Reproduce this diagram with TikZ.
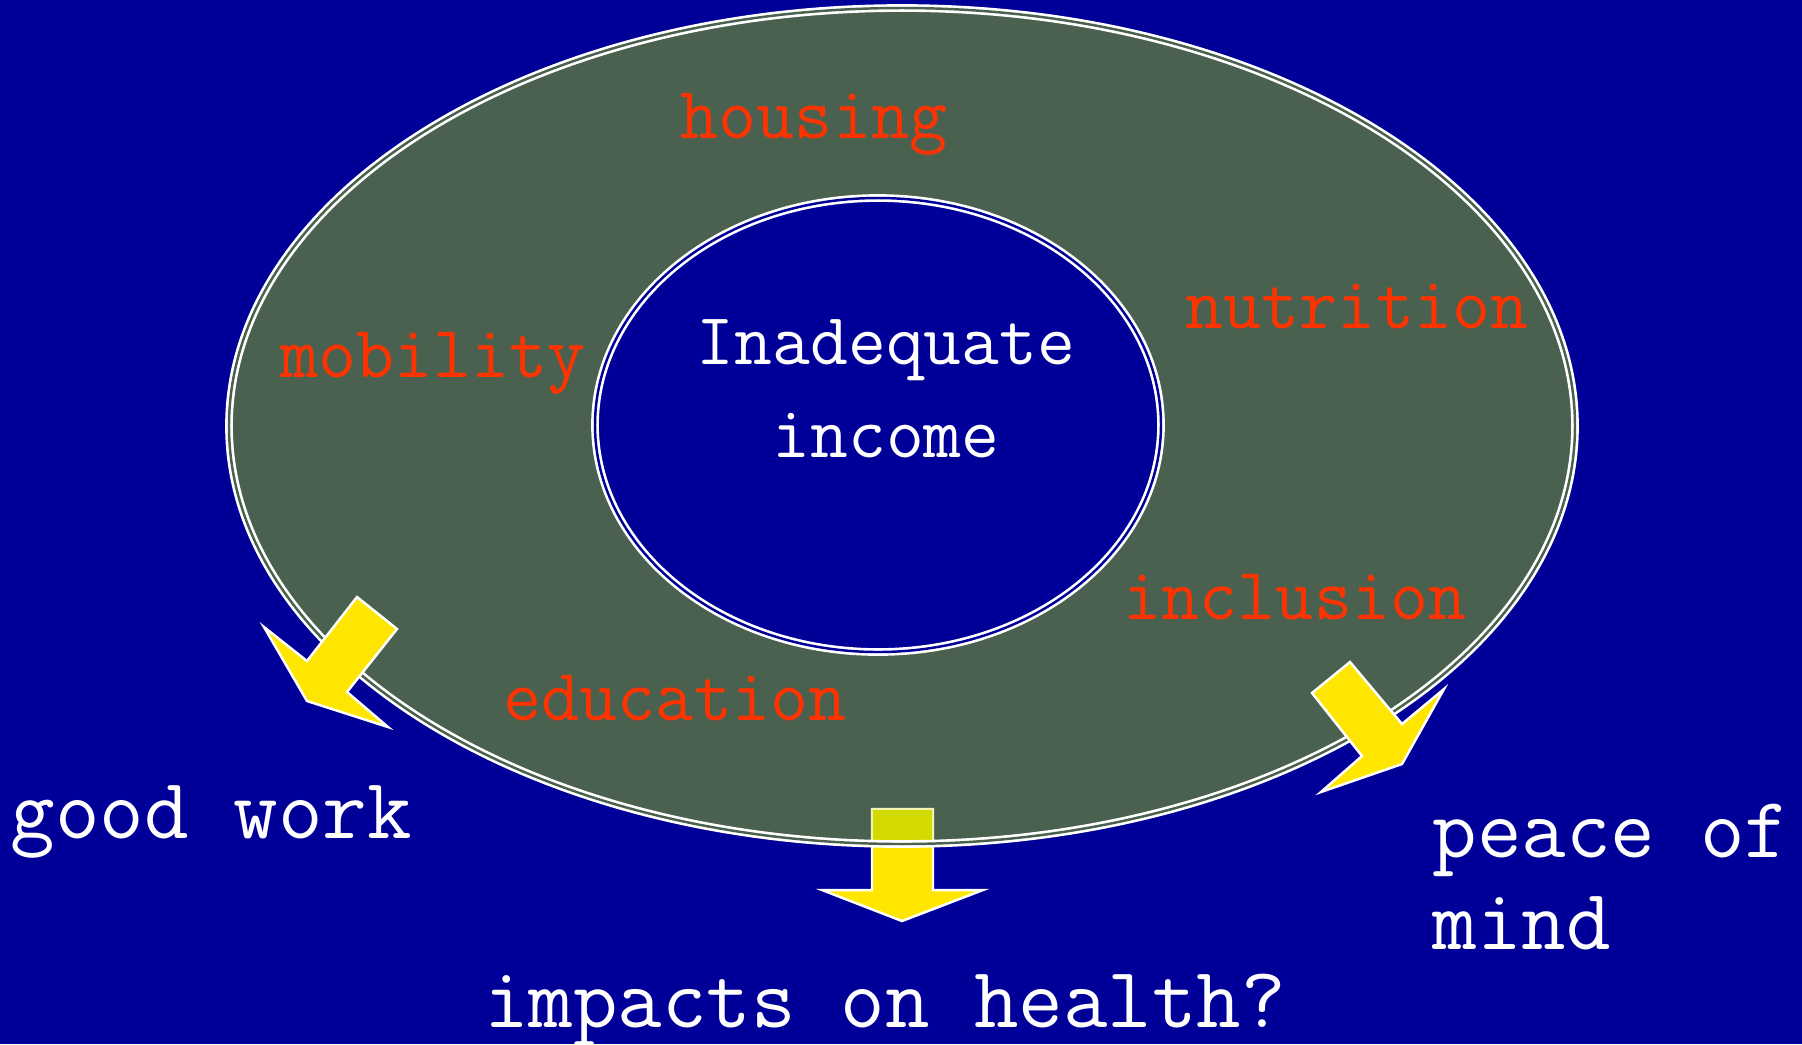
\documentclass[tikz,border=0pt]{standalone}
\usepackage{fontspec}
\usepackage{tikz}
\usetikzlibrary{positioning}

\definecolor{bgblue}{HTML}{000099}
\definecolor{ringgreen}{HTML}{4A6150}
\definecolor{labelred}{HTML}{FF3300}
\definecolor{arrowyellow}{HTML}{FFE600}
\definecolor{shaftolive}{HTML}{D2DA00}

\begin{document}
\begin{tikzpicture}[
    x=0.01cm, y=-0.01cm,
    ring/.style={draw=white, line width=0.75pt, double distance=0.7pt},
    factor/.style={font=\ttfamily\fontsize{21}{24}\selectfont, text=labelred, inner sep=0pt},
    core/.style={font=\ttfamily\fontsize{20.9}{26.4}\selectfont, text=white, align=center, inner sep=0pt},
    outcome/.style={font=\ttfamily\fontsize{24.6}{26.3}\selectfont, text=white, align=left, inner sep=0pt},
    fatarrow/.style={fill=arrowyellow, draw=white, line width=0.7pt, line join=miter}
]

% Background
\fill[bgblue] (0,0) rectangle (1802,1044);
\useasboundingbox (0,0) rectangle (1802,1044);

% Outer ring
\fill[ringgreen] (902,426) ellipse [x radius=673, y radius=418];

% Arrow down (shaft under the ring edge)
\draw[fatarrow] (872,809) -- (933,809) -- (933,890) -- (983,890) -- (902,921)
    -- (822,890) -- (872,890) -- cycle;
\begin{scope}
  \clip (902,426) ellipse [x radius=673, y radius=418];
  \fill[shaftolive] (872,809) rectangle (933,890);
  \draw[white!70!shaftolive, line width=0.7pt] (872,890) -- (872,809) -- (933,809) -- (933,890);
\end{scope}
\draw[ring, double=ringgreen] (902,426) ellipse [x radius=673, y radius=418];

% Inner ring
\draw[ring, double=bgblue, fill=bgblue] (878,425) ellipse [x radius=283, y radius=227];

% Side arrows
\draw[fatarrow] (357,597) -- (397,629) -- (347,692) -- (388,727) -- (307,701)
    -- (264,627) -- (307,661) -- cycle;
\draw[fatarrow] (1350,662) -- (1402,724) -- (1444,689) -- (1402,764) -- (1321,792)
    -- (1362,756) -- (1312,693) -- cycle;

% Centre
\node[core] (income) at (886,389) {Inadequate\\income};

% Factors
\node[factor] (housing) at (814,124) {housing};
\node[factor] (nutrition) at (1357,307) {nutrition};
\node[factor] (mobility) at (433,363) {mobility};
\node[factor] (inclusion) at (1295,597) {inclusion};
\node[factor] (education) at (675,698) {education};

% Outcomes
\node[outcome, anchor=west] (work) at (10,822) {good work};
\node[outcome, anchor=west] (peace) at (1432,877) {peace of\\mind};
\node[outcome] (health) at (885,1010) {impacts on health?};

\end{tikzpicture}
\end{document}
